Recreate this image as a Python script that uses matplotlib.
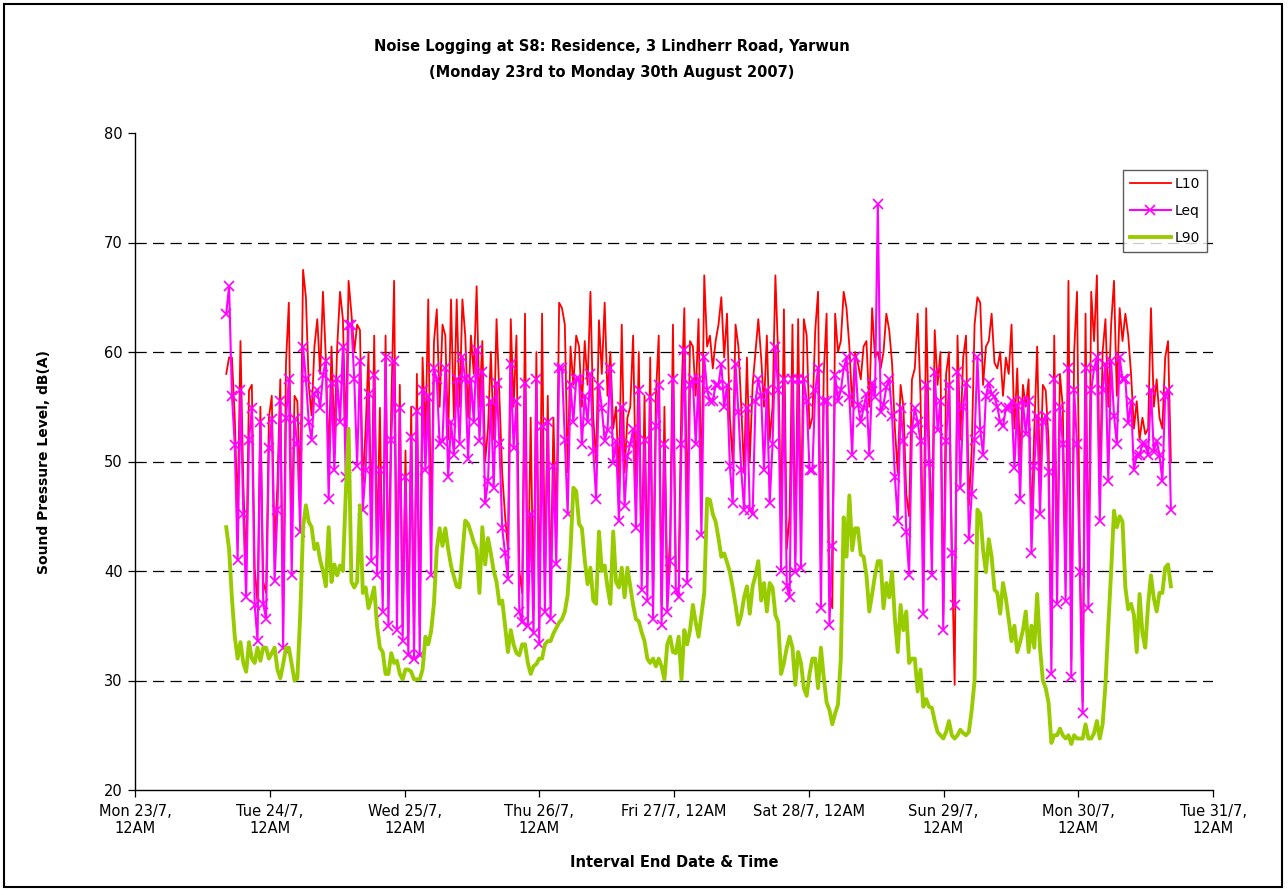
import matplotlib
matplotlib.use('Agg')
import matplotlib.pyplot as plt
from matplotlib.patches import Rectangle
import pandas as pd

plt.rcParams['font.family'] = ['DejaVu Sans']

# logging period (samples evenly spaced between first and last interval end)
start_time = '2007-07-23 16:15'
end_time = '2007-07-30 16:30'

# L10, dB(A) - one row per half day
l10 = [
    58, 59.5, 59.5, 54, 45, 61, 48, 40, 56.5, 57, 40.3, 37, 55, 39, 38, 54, 56, 42, 48, 57.5, 35, 59, 64.5, 43,
    56, 55.5, 47, 67.5, 65, 57, 54.2, 60.5, 63, 58, 65.5, 59.5, 50, 60.5, 52, 60.5, 65.5, 63, 52, 66.5, 63.5, 60, 62.5, 62,
    48, 53, 60, 44, 61.5, 42, 54.9, 38, 61.5, 38.6, 55, 66.5, 37, 57, 35, 51, 34.3, 55, 34, 58, 35, 59.5, 52, 64.8,
    43, 60.9, 63.9, 55, 62.5, 61.5, 52, 64.8, 54, 64.8, 55, 64.8, 61.5, 54, 61.5, 58, 66, 55, 61, 50, 53, 60, 52, 63,
    56, 48.9, 45, 42, 63, 55, 61.5, 40, 38, 63.5, 37, 54, 36.5, 60, 35.5, 63.5, 39, 56, 38, 54, 43, 64.5, 64, 62.5,
    49, 60.5, 57, 61.5, 60.5, 55, 61, 57, 65.5, 54, 50, 62.9, 58, 64.5, 56, 60, 53, 55, 48, 62.5, 49, 54, 55, 61.5,
    47, 60, 40, 56, 39.5, 59.5, 38, 56, 61.5, 37, 55, 38.5, 43, 62.5, 40, 40, 56, 64, 45, 61, 60.5, 56, 63, 47,
    67, 60.5, 61.5, 58.5, 61, 62.5, 65, 59.5, 63.5, 54, 50, 62.5, 60.5, 55, 49, 59.5, 50, 57, 60, 63, 59.5, 55, 61.5, 52,
    55, 67, 59.5, 44, 63.9, 42, 45, 62.5, 41.5, 63, 44, 63, 61.5, 53, 54, 62, 65.5, 40, 58, 63.5, 38, 36.6, 63.5, 60,
    61, 65.5, 64, 60.5, 55, 60, 59, 57.5, 60.5, 61, 55, 64, 59.5, 60, 58.5, 60, 63.5, 62, 59, 53, 49, 57, 55, 47,
    45, 57.5, 58.5, 63.5, 56, 40, 64, 52, 43, 62, 57, 60, 36, 58, 60, 42, 29.6, 61.5, 52, 59.5, 61.5, 46, 51, 62.5,
    65, 64.5, 57, 60.5, 61, 63.5, 59, 58.5, 60, 56, 59.5, 58, 62.5, 53, 58.5, 50, 57, 55, 57.5, 44, 53, 60.5, 48, 57,
    56.5, 52, 33, 61.5, 40, 58, 55, 40, 66.5, 32, 60, 65.5, 42, 28, 63.5, 38.5, 65.5, 61, 67, 47, 60, 63, 55, 62.5,
    66.5, 56, 64, 61, 63.5, 61.5, 58, 53, 55.5, 52, 54, 52.5, 53, 64, 55, 57.5, 54, 53, 59.5, 61, 50,
]

# Leq, dB(A)
leq = [
    63.5, 66, 56, 51.5, 41, 56.5, 45.2, 37.6, 52, 54.9, 36.9, 33.6, 53.6, 37, 35.6, 51.2, 53.9, 39.1, 45.6, 55.5, 33, 54, 57.5, 39.6,
    53.9, 51.6, 43.6, 60.5, 57.5, 53.6, 52, 56.2, 56.5, 54.9, 57.9, 59.2, 46.6, 57.2, 49.2, 57.5, 53.6, 60.5, 48.6, 62.5, 62.5, 57.5, 49.6, 59.2,
    45.6, 49.2, 56.2, 40.9, 57.9, 39.6, 49.2, 36.3, 59.5, 35, 52, 59.2, 34.6, 54.9, 33.6, 48.6, 32.3, 52.2, 32, 54.6, 32.3, 56.5, 49.2, 55.9,
    39.6, 58.5, 57.5, 51.6, 51.9, 58.5, 48.6, 53.6, 50.6, 57.5, 51.6, 59.5, 57.5, 50.2, 57.5, 53.6, 60.2, 51.9, 58.2, 46.2, 48.2, 55.5, 47.6, 57.2,
    51.6, 43.9, 41.6, 39.3, 58.9, 51.2, 55.5, 36.3, 35.3, 57.2, 35, 45.2, 34.3, 57.5, 33.3, 53.2, 36.3, 53.6, 35.6, 49.6, 40.6, 58.5, 58.5, 52,
    45.2, 57, 53.6, 57.5, 57.5, 51.6, 56, 53.6, 58, 51, 46.6, 57, 54.9, 51.9, 52.9, 58.5, 49.9, 51.9, 44.6, 55, 45.9, 50.5, 51.6, 53,
    43.9, 56.5, 38.3, 52, 37.3, 55.9, 35.6, 53.2, 57, 35.1, 51.6, 36.3, 40.9, 57.5, 38.3, 37.6, 51.6, 60.2, 38.9, 57, 57.5, 51.6, 57.5, 43.3,
    59.5, 56.5, 55.5, 55.5, 57, 57, 58.9, 55, 57, 49.6, 46.2, 58.9, 54.5, 49.2, 45.6, 54.9, 45.6, 45.2, 55.5, 57.5, 56, 49.2, 56.5, 46.2,
    51.6, 60.5, 56.5, 40, 57.5, 38.6, 37.6, 57.5, 39.9, 57.5, 40.3, 57.5, 55.5, 49.2, 49.2, 56.5, 58.5, 36.6, 55.5, 55.5, 35.1, 42.3, 57.9, 55.5,
    56.5, 58.5, 59.5, 55.9, 50.6, 59.5, 55.2, 53.6, 54.9, 56.2, 50.6, 57.2, 55.9, 73.5, 54.5, 55.2, 56.8, 57.5, 54.2, 48.6, 44.6, 54.9, 51.9, 43.6,
    39.6, 52.9, 54.9, 53.6, 51.9, 36.1, 57, 49.9, 39.6, 58.2, 52.9, 55.5, 34.6, 51.9, 57, 41.6, 36.9, 58.2, 47.6, 55, 57.2, 42.9, 47, 52,
    59.5, 52.9, 50.6, 56, 57.2, 56.2, 55.9, 55, 53.6, 53.2, 54.9, 54.9, 55.5, 49.4, 55.2, 46.6, 55.5, 52.5, 55.5, 41.6, 49.6, 54.2, 45.2, 53.6,
    54.2, 49, 30.6, 57.5, 37, 55, 51.6, 37.3, 58.5, 30.3, 56.5, 51.6, 39.9, 27, 58.5, 36.6, 56.5, 58.5, 59.5, 44.6, 56.5, 58.9, 48.2, 59.2,
    54.2, 51.6, 59.5, 57.5, 57.5, 53.5, 55.5, 49.2, 50.6, 50.6, 51.6, 51.6, 50.6, 56.5, 50.9, 51.9, 50.6, 48.2, 56, 56.5, 45.6,
]

# L90, dB(A)
l90 = [
    44, 42, 37.5, 34, 32, 33.5, 31.6, 30.8, 33.5, 32, 31.6, 33, 31.8, 33, 33, 32, 32.5, 33, 31, 30.2, 31.5, 33, 33, 31.5,
    30, 30.2, 36, 44, 46, 44.5, 44, 42, 42.5, 41, 40, 38.6, 44, 39, 40.6, 39.6, 40.5, 40, 47, 53, 39, 38.5, 39, 46,
    38, 38.5, 36.6, 37.5, 38.5, 35, 33, 32.6, 30.6, 30.6, 32.5, 31.6, 31.8, 30.6, 30.1, 31, 31, 30.8, 30.1, 30.1, 30.1, 31, 34, 33.3,
    34.5, 37, 42, 43.9, 42.3, 43.9, 42, 40.5, 39.5, 38.6, 38.5, 41.6, 44.6, 44.3, 43.5, 42.6, 42, 38, 44, 40.6, 43, 41.6, 40, 39,
    37, 37.3, 35, 32.6, 34.6, 33.3, 32.5, 32.3, 33.3, 33.3, 31.6, 30.6, 31.3, 31.5, 32, 32, 33.3, 33.6, 33.6, 34.3, 34.8, 35.3, 35.6, 36.3,
    37.8, 42, 47.6, 47.3, 44.3, 43.9, 41, 38.8, 40.3, 37.3, 37, 43.6, 40, 40.5, 38.5, 37, 43.6, 39, 38.5, 40.3, 37.6, 40.3, 38.6, 36.9,
    35.6, 35.4, 34.4, 33.6, 32, 31.6, 32, 31.3, 32, 31.3, 30.1, 33.3, 34, 32.6, 32.5, 34, 30.1, 34.6, 33.3, 34.6, 36.9, 35.3, 34, 36,
    38, 46.6, 46.5, 45.2, 44.5, 43, 41.3, 41.6, 40.8, 39.9, 38.5, 36.9, 35.1, 36, 37.6, 38.6, 36.1, 38.6, 39.6, 40.9, 37.3, 38.9, 36.3, 38.9,
    38.5, 36, 35.3, 30.6, 31.6, 33, 34, 33, 29.6, 32.6, 31.6, 29.3, 28.6, 30.6, 32, 32, 29.3, 33, 30.3, 28, 27.3, 26, 27, 27.8,
    32, 44.9, 41.3, 46.9, 41.9, 43.9, 43.9, 41.5, 41.3, 39.6, 36.3, 37.9, 39.6, 40.9, 40.9, 36.6, 38.9, 37.6, 39.9, 35.6, 32.6, 36.9, 34.6, 36.3,
    31.6, 32, 32, 29, 31, 27.6, 28.3, 27.6, 27.5, 26.3, 25.3, 25, 24.7, 25.3, 26.3, 25, 24.7, 25, 25.5, 25.2, 25, 25.3, 27.3, 30,
    45.6, 45.2, 41.9, 39.9, 42.9, 41.3, 38.3, 38, 36.1, 38.9, 37.5, 35.6, 33.6, 35, 32.6, 33.5, 34.6, 36.3, 32.6, 35, 33, 37.9, 33, 30,
    29.3, 28, 24.3, 25, 25, 25.6, 25, 24.7, 25, 24.2, 25, 24.7, 24.7, 24.7, 26, 24.7, 24.7, 25.2, 26.3, 24.7, 26, 29.6, 35, 40,
    45.5, 44, 45, 44.5, 38.5, 36.5, 37, 36, 32.6, 37.9, 34.3, 33, 37, 39.6, 37.5, 36.3, 38, 38, 40.3, 40.6, 38.6,
]

day_labels = ['Mon 23/7,\n12AM', 'Tue 24/7,\n12AM', 'Wed 25/7,\n12AM', 'Thu 26/7,\n12AM',
              'Fri 27/7, 12AM', 'Sat 28/7, 12AM', 'Sun 29/7,\n12AM', 'Mon 30/7,\n12AM', 'Tue 31/7,\n12AM']

times = pd.date_range(start_time, end_time, periods=len(leq))
days = pd.date_range('2007-07-23', '2007-07-31', freq='D')

fig = plt.figure(figsize=(12.88, 8.9), dpi=100)
ax = fig.add_axes([135 / 1288, 1 - 790 / 890, (1213 - 135) / 1288, (790 - 133) / 890])

# dashed grid lines (not at the axis limits)
for y in [30, 40, 50, 60, 70]:
    ax.axhline(y, color='black', lw=0.9, ls=(0, (9, 5)), zorder=1)

ax.plot(times, l10, color='#FF0000', lw=1.3, label='L10', zorder=2)
ax.plot(times, leq, color='#FF00FF', lw=1.5, marker='x', ms=6.5, mew=1.2, label='Leq', zorder=3)
ax.plot(times, l90, color='#99CC00', lw=2.8, label='L90', zorder=4)

ax.set_xlim(days[0], days[-1])
ax.set_ylim(20, 80)
ax.set_yticks(range(20, 81, 10))
ax.set_xticks(days)
ax.set_xticklabels(day_labels, fontsize=10.5, linespacing=1.15)
ax.tick_params(axis='y', labelsize=10.5, length=5, width=0.9, pad=4)
ax.tick_params(axis='x', length=5, width=0.9, pad=5)

for side in ['top', 'right']:
    ax.spines[side].set_visible(False)
for side in ['left', 'bottom']:
    ax.spines[side].set_linewidth(1.0)

ax.set_ylabel('Sound Pressure Level, dB(A)', fontsize=10, fontweight='bold', labelpad=38)
ax.set_xlabel('Interval End Date & Time', fontsize=10.5, fontweight='bold', labelpad=14)

fig.text(612 / 1288, 1 - 47 / 890, 'Noise Logging at S8: Residence, 3 Lindherr Road, Yarwun',
         ha='center', va='center', fontsize=10.5, fontweight='bold')
fig.text(612 / 1288, 1 - 72 / 890, '(Monday 23rd to Monday 30th August 2007)',
         ha='center', va='center', fontsize=10.5, fontweight='bold')

leg = ax.legend(loc='upper right', bbox_to_anchor=(1207 / 1288, 1 - 170 / 890),
                bbox_transform=fig.transFigure, borderaxespad=0, fancybox=False,
                edgecolor='#333333', fontsize=10, handlelength=2.9, handletextpad=0.3,
                numpoints=1, labelspacing=0.95, borderpad=0.5)
leg.get_frame().set_linewidth(1.0)

# chart-area border
fig.patches.append(Rectangle((4 / 1288, 3 / 890), 1278 / 1288, 883 / 890, transform=fig.transFigure,
                             fill=False, edgecolor='black', lw=1.5))

plt.savefig('out.png', dpi=100)
